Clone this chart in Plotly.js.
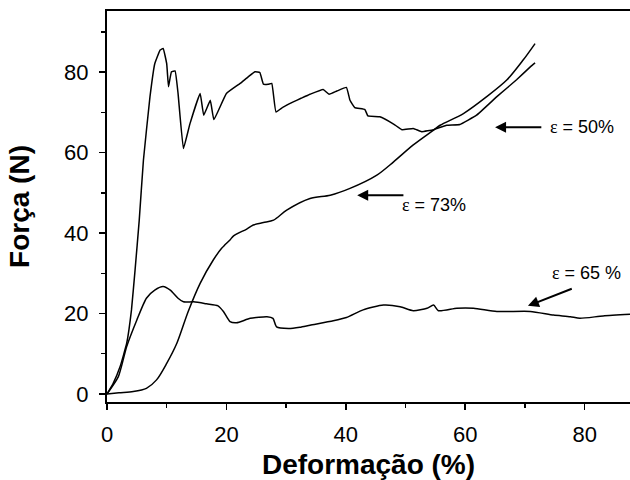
<!DOCTYPE html>
<html>
<head>
<meta charset="utf-8">
<script src="https://cdn.plot.ly/plotly-3.0.1.min.js"></script>
<style>html,body{margin:0;padding:0;background:#fff}</style>
</head>
<body>
<div id="chart" style="width:630px;height:480px"></div>
<script>
// ε = 50% sample
const x50 = [0, 1, 2.2, 3.3, 4.1, 4.7, 5.4, 6.1, 7.2, 8.0, 8.9, 9.4, 10.0, 10.3, 10.8, 11.4, 11.9, 12.8, 13.9, 15.6, 16.2, 17.3, 17.9, 20.0, 22.3, 23.7, 24.8, 25.6, 26.2, 27.0, 27.6, 28.3, 29.5, 31.2, 32.5, 34.0, 36.2, 37.2, 38.5, 40.1, 40.7, 41.5, 43.2, 43.7, 45.7, 48.0, 49.4, 51.3, 52.7, 54.7, 56.9, 59.1, 61.9, 65.3, 68.6, 70.9, 71.7];
const y50 = [0, 2.5, 6.8, 12.6, 20.9, 30.8, 43.2, 58.1, 73.9, 82.1, 85.5, 85.9, 82.1, 76.4, 80.1, 80.3, 74.7, 61, 67.2, 74.7, 69.3, 73, 68.2, 74.7, 77.2, 78.9, 80.1, 79.9, 77, 77, 77.2, 70.1, 71.3, 72.6, 73.5, 74.5, 75.7, 74.5, 75.3, 76.2, 73, 71.2, 70.7, 69.1, 68.9, 67.1, 65.7, 66, 65.2, 65.7, 66.8, 67.0, 69.3, 73.9, 78.1, 81.3, 82.3];

// ε = 73% sample
const x73 = [0, 2, 4.4, 6.6, 8.3, 10, 11.7, 13.6, 15.6, 17.8, 19.2, 20.6, 21.2, 23.4, 24.5, 26.2, 27.9, 30.1, 34, 37.4, 40.7, 45.2, 48, 51.3, 54.7, 55.8, 59.7, 63.6, 67, 69.7, 71.7];
const y73 = [0, 0.3, 0.6, 1.4, 3.5, 7.6, 12.6, 20.5, 27.5, 33.3, 36.2, 38.3, 39.3, 41, 42, 42.6, 43.2, 45.7, 48.6, 49.4, 51.1, 54.4, 57.7, 61.9, 65.6, 66.8, 69.7, 73.9, 78.1, 83, 87.1];

// ε = 65 % sample
const x65 = [0, 1.9, 3.3, 5, 6.6, 8, 9.4, 10.6, 11.9, 12.8, 14.5, 16.7, 18.6, 19.5, 20.6, 21.7, 24, 26.8, 27.8, 28.4, 30.4, 32.3, 34, 37.9, 40.1, 42.9, 46.3, 49.1, 51.3, 53.6, 54.7, 55.5, 58.6, 61.4, 65.3, 70.9, 74.8, 77.6, 79.2, 83.1, 87.6];
const y65 = [0, 4.3, 11.8, 18.4, 23.8, 25.8, 26.7, 25.8, 23.8, 22.9, 22.9, 22.4, 21.9, 20.5, 18, 17.7, 18.8, 19.2, 18.8, 16.7, 16.3, 16.6, 17.1, 18.2, 19, 20.9, 22.1, 21.7, 20.7, 21.3, 22.1, 20.7, 21.3, 21.3, 20.5, 20.5, 19.6, 19.2, 18.8, 19.4, 19.8];

// labels
const labels = ['ε = 50%', 'ε = 73%', 'ε = 65 %'];
const xTicks = [0, 20, 40, 60, 80];
const yTicks = [0, 20, 40, 60, 80];

const FONT = 'Arial, "Liberation Sans", sans-serif';

const traces = [
  {x: x50, y: y50, mode: 'lines', line: {color: '#000', width: 1.5, shape: 'spline', smoothing: 0.3}, name: labels[0]},
  {x: x73, y: y73, mode: 'lines', line: {color: '#000', width: 1.5, shape: 'spline', smoothing: 0.8}, name: labels[1]},
  {x: x65, y: y65, mode: 'lines', line: {color: '#000', width: 1.5, shape: 'spline', smoothing: 0.6}, name: labels[2]}
];

function eps(t) {
  return t.replace('ε', '<span style="font-family:\'Liberation Serif\',serif">ε</span>');
}

const annotations = [
  // arrows
  {x: 65, y: 66.3, ax: 73, ay: 66.3, axref: 'x', ayref: 'y', xref: 'x', yref: 'y', text: '', showarrow: true, arrowhead: 2, arrowsize: 1.1, arrowwidth: 2, arrowcolor: '#000'},
  {x: 41.9, y: 49.4, ax: 49.9, ay: 49.4, axref: 'x', ayref: 'y', xref: 'x', yref: 'y', text: '', showarrow: true, arrowhead: 2, arrowsize: 1.1, arrowwidth: 2, arrowcolor: '#000'},
  {x: 70.5, y: 21.9, ax: 78.1, ay: 26.3, axref: 'x', ayref: 'y', xref: 'x', yref: 'y', text: '', showarrow: true, arrowhead: 2, arrowsize: 1.1, arrowwidth: 2, arrowcolor: '#000'},
  // labels
  {x: 73.8, y: 66.3, xref: 'x', yref: 'y', text: eps(labels[0]), showarrow: false, xanchor: 'left', yanchor: 'middle', font: {family: FONT, size: 18, color: '#000'}},
  {x: 49.1, y: 46.9, xref: 'x', yref: 'y', text: eps(labels[1]), showarrow: false, xanchor: 'left', yanchor: 'middle', font: {family: FONT, size: 18, color: '#000'}},
  {x: 74.2, y: 30.1, xref: 'x', yref: 'y', text: eps(labels[2]), showarrow: false, xanchor: 'left', yanchor: 'middle', font: {family: FONT, size: 18, color: '#000'}}
];

const layout = {
  width: 630, height: 480,
  margin: {l: 107, r: 0, t: 11, b: 78},
  paper_bgcolor: '#fff', plot_bgcolor: '#fff',
  showlegend: false,
  font: {family: FONT, color: '#000'},
  xaxis: {
    range: [0, 87.6], tickvals: xTicks, ticktext: xTicks.map(String),
    ticks: 'outside', ticklen: 6, tickwidth: 1.5, tickcolor: '#000',
    minor: {dtick: 10, tick0: 0, ticks: 'outside', ticklen: 4, tickwidth: 1.5, tickcolor: '#000'},
    showline: true, linewidth: 2, linecolor: '#000', mirror: true,
    showgrid: false, zeroline: false,
    tickfont: {family: FONT, size: 22, color: '#000'},
    ticklabelstandoff: 6,
    title: {text: 'Deformação (%)', font: {family: FONT, size: 28, color: '#000', weight: 'bold'}, standoff: 8}
  },
  yaxis: {
    range: [-2, 95.2], tickvals: yTicks, ticktext: yTicks.map(String),
    ticks: 'outside', ticklen: 6, tickwidth: 1.5, tickcolor: '#000',
    minor: {dtick: 10, tick0: 0, ticks: 'outside', ticklen: 4, tickwidth: 1.5, tickcolor: '#000'},
    showline: true, linewidth: 2, linecolor: '#000',
    showgrid: false, zeroline: false,
    tickfont: {family: FONT, size: 22, color: '#000'},
    ticklabelstandoff: 6,
    title: {text: 'Força (N)', font: {family: FONT, size: 28, color: '#000', weight: 'bold'}, standoff: 26}
  },
  annotations: annotations
};

Plotly.newPlot('chart', traces, layout, {displayModeBar: false, staticPlot: true});
</script>
</body>
</html>
